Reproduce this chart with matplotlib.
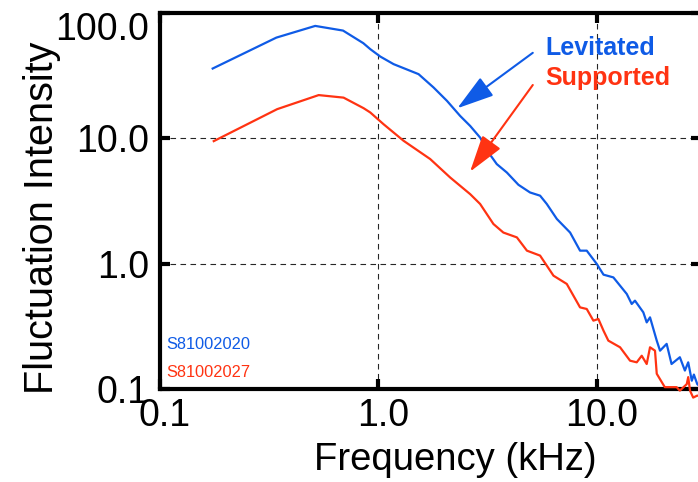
import matplotlib
matplotlib.use("Agg")
import matplotlib.pyplot as plt
from matplotlib.patches import FancyArrowPatch
from matplotlib.ticker import NullLocator
from matplotlib.transforms import ScaledTranslation

plt.rcParams['font.family'] = ['Liberation Sans', 'DejaVu Sans']

# spectra (frequency in kHz, intensity in a.u.)
blue_f = [0.175, 0.342, 0.515, 0.690, 0.854, 0.919, 1.021, 1.175, 1.528, 1.789,
          2.06, 2.368, 2.63, 2.92, 3.19, 3.48, 3.87, 4.37, 4.94, 5.49,
          5.89, 6.55, 7.53, 8.36, 8.97, 9.97, 10.7, 11.87, 13.67, 14.4,
          14.9, 16.27, 16.86, 17.46, 18.74, 19.4, 20.8, 21.9, 23.9, 25.2,
          26.1, 27.1, 27.7, 28.7, 29.6]
blue_v = [35.8, 63.1, 78.2, 71.8, 57.0, 51.1, 44.6, 38.8, 32.3, 25.3,
          19.8, 15.0, 12.5, 10.1, 7.68, 6.21, 5.32, 4.25, 3.69, 3.48,
          2.99, 2.27, 1.77, 1.27, 1.27, 0.995, 0.818, 0.778, 0.574, 0.478,
          0.508, 0.410, 0.341, 0.374, 0.244, 0.203, 0.230, 0.159, 0.180, 0.141,
          0.164, 0.117, 0.131, 0.110, 0.105]

red_f = [0.177, 0.345, 0.534, 0.694, 0.857, 0.919, 1.057, 1.305, 1.727, 2.13,
         2.63, 2.92, 3.36, 3.73, 4.30, 4.78, 5.49, 6.32, 7.27, 8.36,
         8.97, 9.62, 10.14, 10.7, 11.26, 12.74, 14.15, 15.18, 16.0, 16.86,
         17.46, 18.4, 18.74, 20.4, 23.1, 23.9, 25.7, 26.1, 26.6, 27.5,
         28.7, 29.6]
red_v = [9.46, 17.0, 22.0, 21.0, 17.3, 16.0, 12.9, 9.52, 6.81, 4.86,
         3.58, 2.99, 2.07, 1.77, 1.62, 1.27, 1.16, 0.803, 0.690, 0.449,
         0.436, 0.352, 0.363, 0.293, 0.244, 0.216, 0.169, 0.164, 0.185, 0.159,
         0.216, 0.203, 0.133, 0.104, 0.104, 0.0976, 0.110, 0.125, 0.0976, 0.0859,
         0.0891, 0.088]

xticks = [0.1, 1.0, 10.0]
xtick_labels = ["0.1", "1.0", "10.0"]
yticks = [0.1, 1.0, 10.0, 100.0]
ytick_labels = ["0.1", "1.0", "10.0", "100.0"]

blue = '#0f5be6'
red = '#ff3312'

fig = plt.figure(figsize=(6.98, 4.82), dpi=100)
ax = fig.add_axes([159.5 / 698, 1 - 389.3 / 482, 541 / 698, 376.8 / 482])

ax.set_xscale('log')
ax.set_yscale('log')
ax.set_xlim(0.1, 29.7)
ax.set_ylim(0.1, 100)

ax.plot(blue_f, blue_v, color=blue, lw=1.6, clip_on=False, zorder=3)
ax.plot(red_f, red_v, color=red, lw=1.6, clip_on=False, zorder=3)

ax.grid(True, which='major', color='0.15', linestyle=(0, (5, 4)), linewidth=0.8)
ax.set_axisbelow(True)

ax.set_xticks(xticks, xtick_labels)
ax.set_yticks(yticks, ytick_labels)
ax.xaxis.set_minor_locator(NullLocator())
ax.yaxis.set_minor_locator(NullLocator())
ax.tick_params(which='major', direction='in', length=7, width=3,
               top=True, right=True, labelsize=27)
ax.tick_params(axis='x', pad=6.5)
ax.tick_params(axis='y', pad=7.5)
for s in ax.spines.values():
    s.set_linewidth(3)

# top label sits inside the frame, x labels slightly to the right
ax.get_yticklabels()[-1].set_va('top')
for lbl in ax.get_xticklabels():
    lbl.set_transform(lbl.get_transform() + ScaledTranslation(0.05, 0, fig.dpi_scale_trans))

fig.text(455 / 698, 1 - 470 / 482, "Frequency (kHz)", fontsize=27.5,
         ha='center', va='baseline')
fig.text(42 / 698, 1 - 218 / 482, "Fluctuation Intensity", fontsize=28.5,
         rotation=90, ha='center', va='center')

ax.text(0.7135, 0.887, "Levitated", color=blue, fontsize=18, fontweight='bold',
        transform=ax.transAxes, va='baseline')
ax.text(0.7135, 0.8076, "Supported", color=red, fontsize=18, fontweight='bold',
        transform=ax.transAxes, va='baseline')

for start, end, c in [((0.690, 0.893), (0.5505, 0.7458), blue),
                      ((0.690, 0.8076), (0.574, 0.5775), red)]:
    arr = FancyArrowPatch(start, end, transform=ax.transAxes, color=c,
                          arrowstyle='-|>,head_length=23,head_width=7',
                          lw=1.5, mutation_scale=1, shrinkA=0, shrinkB=0,
                          zorder=4)
    ax.add_patch(arr)

ax.text(0.012, 0.107, "S81002020", color=blue, fontsize=11.8,
        transform=ax.transAxes, va='baseline')
ax.text(0.012, 0.0334, "S81002027", color=red, fontsize=11.8,
        transform=ax.transAxes, va='baseline')

fig.savefig("out.png", dpi=100)
